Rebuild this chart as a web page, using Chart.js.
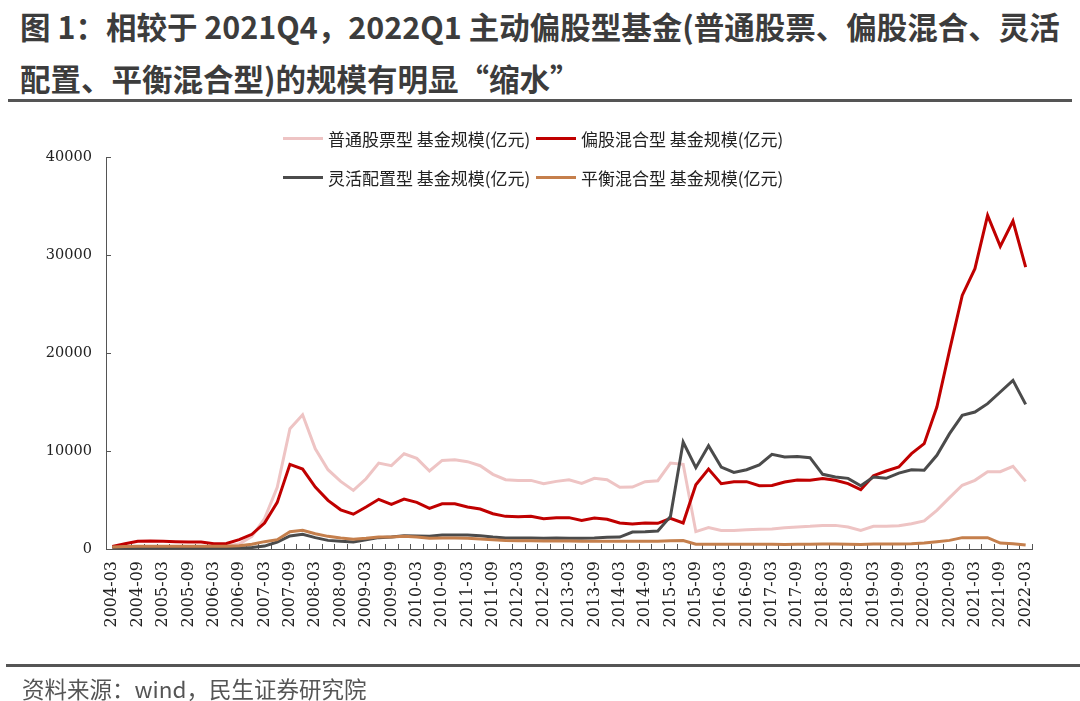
<!DOCTYPE html>
<html>
<head>
<meta charset="utf-8">
<script src="https://cdn.jsdelivr.net/npm/chart.js@4.4.1/dist/chart.umd.min.js"></script>
<style>
  body { margin: 0; width: 1080px; height: 701px; background: #fff; position: relative; overflow: hidden;
         font-family: "Noto Sans CJK SC", "Noto Sans", sans-serif; }
  #title { position: absolute; left: 20px; top: 0; white-space: nowrap; font-size: 30.5px; font-weight: bold;
           line-height: 52px; color: #3c3c3c; }
  .rule { position: absolute; left: 8px; width: 1064px; background: #555; }
  #source { position: absolute; left: 22px; top: 673px; font-size: 22.5px; line-height: 30px; color: #555; white-space: nowrap; }
  #chartBox { position: absolute; left: 0; top: 0; width: 1080px; height: 701px; }
  .lg { position: absolute; display: flex; align-items: center; font-size: 17px; color: #222; white-space: nowrap; }
  .lg span.sw { display: inline-block; width: 40px; height: 3px; margin-right: 5px; }
</style>
</head>
<body>
<div id="title">图 1：相较于 2021Q4，2022Q1 主动偏股型基金(普通股票、偏股混合、灵活<br>配置、平衡混合型)的规模有明显“缩水”</div>
<div class="rule" style="top:99px;height:3px;"></div>
<div id="chartBox"><canvas id="fundChart" width="1080" height="701"></canvas></div>
<div id="legend"></div>
<div class="rule" style="top:664px;height:3px;left:6px;width:1074px;"></div>
<div id="source">资料来源：wind，民生证券研究院</div>

<script>
// quarterly labels, 2004-03 .. 2022-03
const quarters = [
  '2004-03','2004-06','2004-09','2004-12','2005-03','2005-06','2005-09','2005-12',
  '2006-03','2006-06','2006-09','2006-12','2007-03','2007-06','2007-09','2007-12',
  '2008-03','2008-06','2008-09','2008-12','2009-03','2009-06','2009-09','2009-12',
  '2010-03','2010-06','2010-09','2010-12','2011-03','2011-06','2011-09','2011-12',
  '2012-03','2012-06','2012-09','2012-12','2013-03','2013-06','2013-09','2013-12',
  '2014-03','2014-06','2014-09','2014-12','2015-03','2015-06','2015-09','2015-12',
  '2016-03','2016-06','2016-09','2016-12','2017-03','2017-06','2017-09','2017-12',
  '2018-03','2018-06','2018-09','2018-12','2019-03','2019-06','2019-09','2019-12',
  '2020-03','2020-06','2020-09','2020-12','2021-03','2021-06','2021-09','2021-12',
  '2022-03'
];

// 基金规模(亿元)
const stockFund = [
  100,120,150,150,150,150,150,150,200,300,500,1300,3100,6300,12270,13700,
  10230,8090,6900,5980,7170,8770,8500,9720,9250,7960,9040,9110,8910,8500,7620,7070,
  7000,7000,6660,6900,7070,6700,7210,7070,6290,6320,6870,6970,8770,8640,1770,2180,
  1900,1900,1970,2010,2040,2180,2240,2310,2410,2410,2240,1900,2310,2310,2380,2580,
  2860,3950,5240,6500,7010,7890,7890,8430,6900
];
const equityMixed = [
  250,540,800,810,780,750,720,710,540,560,950,1500,2650,4760,8640,8160,
  6320,4960,4000,3550,4280,5070,4560,5100,4760,4150,4620,4620,4280,4080,3600,3330,
  3300,3330,3090,3200,3200,2920,3160,3030,2650,2550,2650,2620,3130,2650,6560,8160,
  6660,6870,6870,6460,6490,6830,7050,7010,7180,7010,6670,6050,7480,7960,8370,9730,
  10750,14490,20270,25880,28600,34050,30880,33470,28770
];
const flexible = [
  50,60,70,80,80,80,80,80,90,100,120,150,300,710,1330,1500,
  1160,880,780,710,950,1160,1220,1360,1330,1290,1430,1430,1430,1360,1220,1120,
  1120,1120,1090,1120,1100,1090,1120,1190,1220,1730,1770,1840,3330,10910,8300,10540,
  8360,7820,8090,8570,9660,9380,9450,9320,7620,7350,7210,6460,7350,7210,7750,8090,
  8030,9560,11770,13640,13980,14830,16020,17210,14760
];
const balanced = [
  200,250,270,270,270,270,270,270,270,280,340,480,750,950,1770,1900,
  1560,1290,1120,990,1090,1220,1220,1290,1220,1090,1120,1120,1090,1020,950,880,
  850,850,820,820,820,800,790,780,780,780,780,780,850,860,480,480,
  480,480,480,480,480,470,480,480,500,500,490,470,500,510,520,540,
  610,750,880,1160,1160,1160,610,540,410
];

const seriesNames = ['普通股票型 基金规模(亿元)', '偏股混合型 基金规模(亿元)', '灵活配置型 基金规模(亿元)', '平衡混合型 基金规模(亿元)'];
const seriesData = [stockFund, equityMixed, flexible, balanced];
const seriesColors = ['#EEC4C4', '#C00000', '#4B4B4B', '#C57F4C'];
const yTicks = [0, 10000, 20000, 30000, 40000];

// legend, 2 x 2
const legendPos = [[283, 126], [536, 126], [283, 165], [536, 165]];
const legendEl = document.getElementById('legend');
seriesNames.forEach((name, i) => {
  const d = document.createElement('div');
  d.className = 'lg';
  d.style.left = legendPos[i][0] + 'px';
  d.style.top = legendPos[i][1] + 'px';
  d.innerHTML = '<span class="sw" style="background:' + seriesColors[i] + '"></span>' + name;
  legendEl.appendChild(d);
});

// small inward tick marks on both axes
const innerTicks = {
  id: 'innerTicks',
  beforeDatasetsDraw(chart) {
    const { ctx, chartArea, scales } = chart;
    ctx.save();
    ctx.strokeStyle = '#555';
    ctx.lineWidth = 1;
    ctx.beginPath();
    for (let i = 0; i <= quarters.length; i++) {
      const px = Math.round(scales.x.getPixelForValue(i - 0.5)) + 0.5;
      ctx.moveTo(px, chartArea.bottom);
      ctx.lineTo(px, chartArea.bottom - 5);
    }
    yTicks.forEach(v => {
      const py = Math.round(scales.y.getPixelForValue(v)) + 0.5;
      ctx.moveTo(chartArea.left, py);
      ctx.lineTo(chartArea.left + 5, py);
    });
    ctx.stroke();
    ctx.restore();
  }
};

const ctx = document.getElementById('fundChart').getContext('2d');
const chart = new Chart(ctx, {
  type: 'line',
  data: {
    labels: quarters,
    datasets: seriesData.map((d, i) => ({
      label: seriesNames[i],
      data: d,
      borderColor: seriesColors[i],
      backgroundColor: seriesColors[i],
      borderWidth: 3,
      pointRadius: 0,
      tension: 0,
      fill: false,
      order: 4 - i
    }))
  },
  options: {
    responsive: false,
    animation: false,
    devicePixelRatio: 1,
    layout: { padding: { left: 0, right: 48, top: 157, bottom: 62 } },
    plugins: { legend: { display: false }, tooltip: { enabled: false } },
    scales: {
      x: {
        type: 'category',
        offset: true,
        grid: { display: false, drawTicks: false, offset: true },
        border: { display: true, color: '#555', width: 1 },
        ticks: {
          autoSkip: false, minRotation: 90, maxRotation: 90, padding: 12,
          color: '#222', font: { family: 'DejaVu Serif', size: 16 },
          callback: (v, i) => (i % 2 === 0 ? quarters[i] : '')
        },
        afterFit: s => { s.height = 90; }
      },
      y: {
        min: 0, max: 40000,
        afterBuildTicks: s => { s.ticks = yTicks.map(v => ({ value: v })); },
        grid: { display: false, drawTicks: false },
        border: { display: true, color: '#555', width: 1 },
        ticks: { padding: 14, color: '#222', font: { family: 'DejaVu Serif', size: 14.5 },
                 callback: v => String(v) },
        afterFit: s => { s.width = 106; }
      }
    }
  },
  plugins: [innerTicks]
});
</script>
</body>
</html>
